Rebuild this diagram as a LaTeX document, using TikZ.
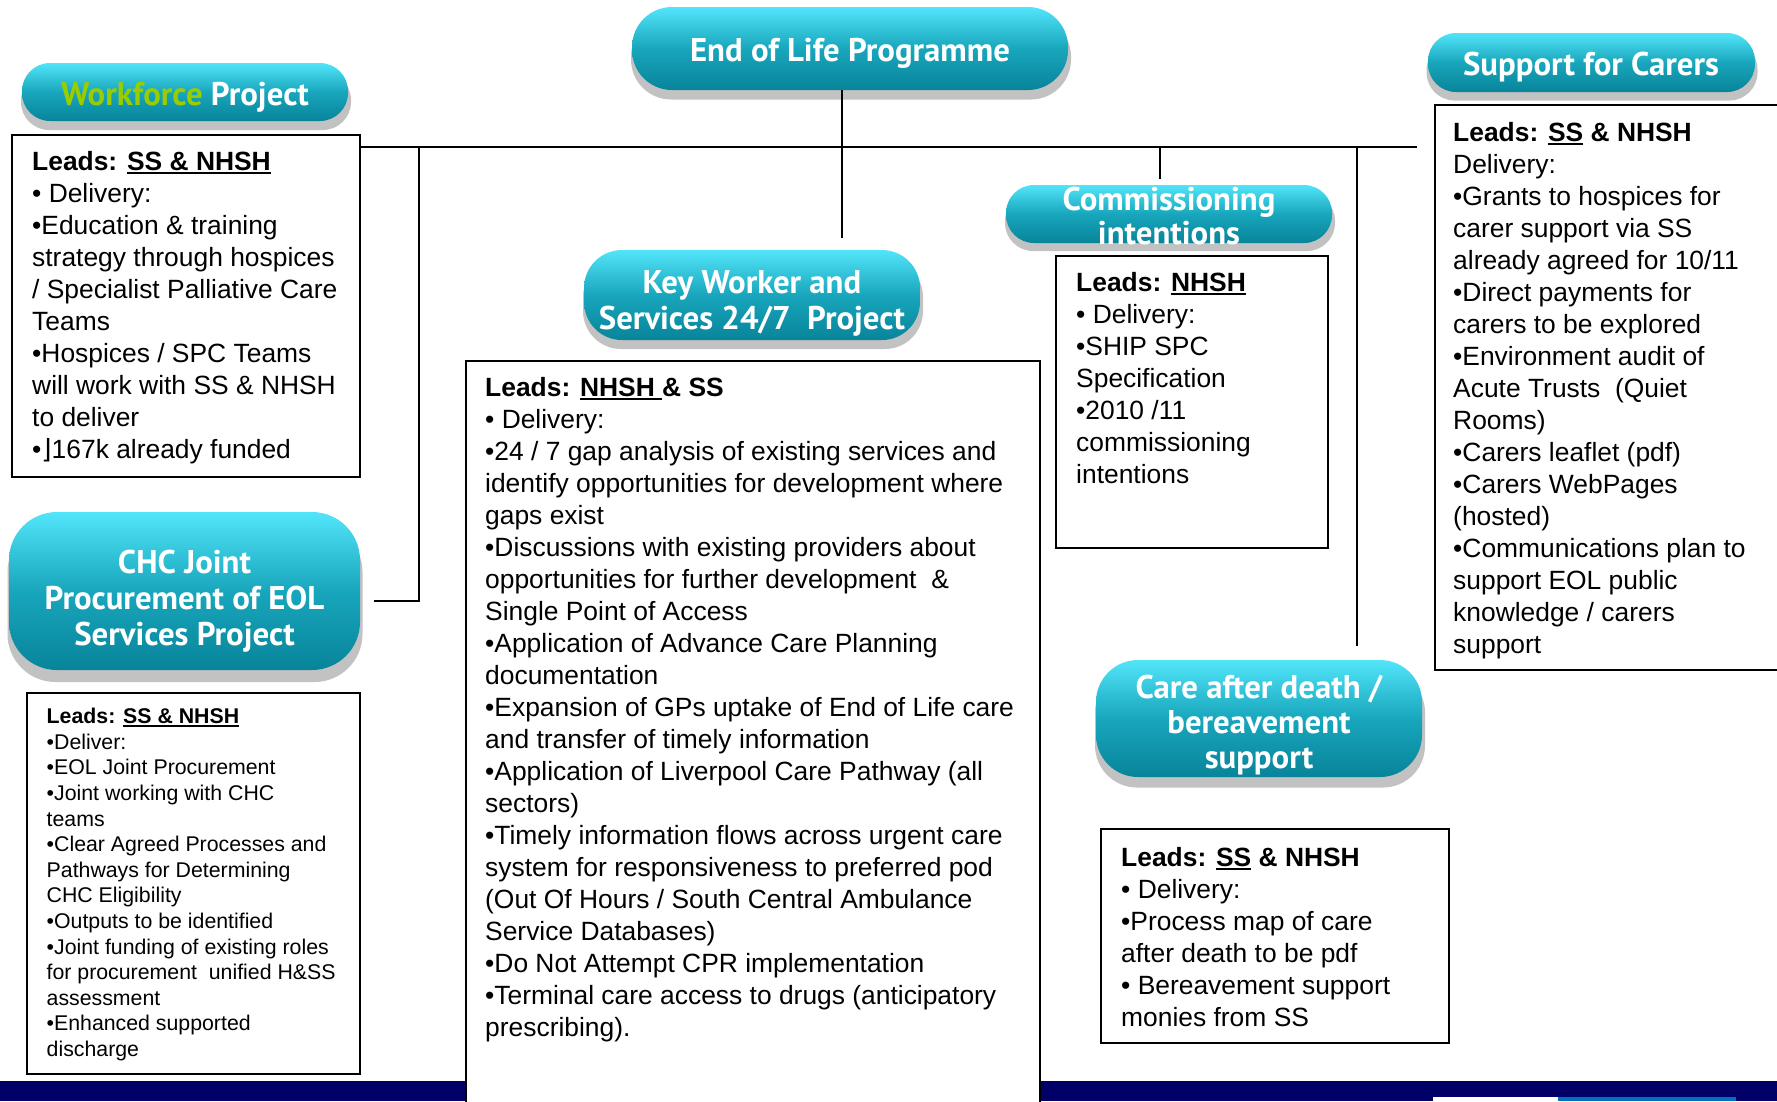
\documentclass[tikz,border=0pt]{standalone}
\usepackage{fontspec}
\setmainfont{Liberation Sans}
\newfontfamily\pillfont{PT Sans}
\newfontfamily\symfont{DejaVu Sans}
\definecolor{pilltop}{HTML}{52E5FA}
\definecolor{pillmid}{HTML}{18A6BC}
\definecolor{pillbot}{HTML}{08849A}
\definecolor{wfgreen}{HTML}{9ACD00}
\definecolor{navybar}{HTML}{000066}
\definecolor{barblue}{HTML}{0070C0}
\newsavebox\ulbox
\newcommand{\myul}[1]{\sbox\ulbox{#1}\rlap{\rule[-3.5pt]{\wd\ulbox}{2pt}}\usebox\ulbox}
\begin{document}
\begin{tikzpicture}[x=1pt,y=-1pt,
  conn/.style={line width=2pt, draw=black},
  box/.style={draw=black, line width=2pt, fill=white, rectangle, inner sep=0pt, anchor=north west},
  txt/.style={anchor=north west, inner sep=0pt, align=left, font=\fontsize{26.4}{32}\selectfont},
  smalltxt/.style={anchor=north west, inner sep=0pt, align=left, font=\fontsize{21.3}{25.6}\selectfont},
  pill/.style={rectangle, rounded corners=#1, top color=pilltop, bottom color=pillbot, middle color=pillmid, inner sep=0pt},
  pillshadow/.style={rectangle, rounded corners=#1, fill=black!24, inner sep=0pt},
  pilltxt/.style={text=white, align=center, inner sep=0pt, font=\pillfont\bfseries\fontsize{32.8}{36}\selectfont}
]
\useasboundingbox (0,0) rectangle (1777,1101);
\clip (0,0) rectangle (1777,1101);

% bottom bar
\fill[navybar] (0,1081) rectangle (1777,1101);
\fill[white] (1433,1097) rectangle (1558,1101);
\fill[barblue] (1558,1097) rectangle (1736,1101);

% boxes
\node[box, minimum width=348pt, minimum height=342pt] (wfbox) at (11,134) {};
\node[box, minimum width=574pt, minimum height=760pt] (kwbox) at (465,360) {};
\node[box, minimum width=272pt, minimum height=292pt] (combox) at (1055,255) {};
\node[box, minimum width=370pt, minimum height=565pt] (supbox) at (1434,104) {};
\node[box, minimum width=348pt, minimum height=214pt] (carebox) at (1100,828) {};
\node[box, minimum width=333pt, minimum height=381pt] (chcbox) at (26,692) {};

% pills: shadows
\node[pillshadow=40, minimum width=440pt, minimum height=83pt] (eolsh) at (851,58) {};
\node[pillshadow=28, minimum width=330pt, minimum height=58pt] (wfsh) at (186,101) {};
\node[pillshadow=28, minimum width=331pt, minimum height=59pt] (supsh) at (1592,71) {};
\node[pillshadow=28, minimum width=330pt, minimum height=58pt] (comsh) at (1170,222) {};
\node[pillshadow=38, minimum width=340pt, minimum height=90pt] (kwsh) at (753,304) {};
\node[pillshadow=42, minimum width=330pt, minimum height=117pt] (caresh) at (1260,729) {};
\node[pillshadow=48, minimum width=355pt, minimum height=158pt] (chcsh) at (185,603) {};

% pills
\node[pill=40, minimum width=436pt, minimum height=83pt] (eol) at (850,48.5) {};
\node[pill=28, minimum width=326pt, minimum height=58pt] (wf) at (185,92) {};
\node[pill=28, minimum width=327pt, minimum height=59pt] (sup) at (1591.5,62.5) {};
\node[pill=28, minimum width=326pt, minimum height=58pt] (com) at (1169,214) {};
\node[pill=38, minimum width=336pt, minimum height=90pt] (kw) at (752,295) {};
\node[pill=42, minimum width=326pt, minimum height=117pt] (care) at (1259,718.5) {};
\node[pill=48, minimum width=351pt, minimum height=158pt] (chc) at (184.5,591) {};

% pill texts
\node[pilltxt] (eoltxt) at (850,53) {End of Life Programme};
\node[pilltxt] (wftxt) at (185,97) {{\color{wfgreen}Workforce} Project};
\node[pilltxt] (suptxt) at (1591,67) {Support for Carers};
\node[pilltxt, font=\pillfont\bfseries\fontsize{32.8}{34}\selectfont] (comtxt) at (1169,216) {Commissioning\\intentions};
\node[pilltxt] (kwtxt) at (752,303) {Key Worker and\\Services 24/7~ Project};
\node[pilltxt, font=\pillfont\bfseries\fontsize{32.8}{35}\selectfont] (caretxt) at (1259,725) {Care after death /\\bereavement\\support};
\node[pilltxt] (chctxt) at (184.5,601.5) {CHC Joint\\Procurement of EOL\\Services Project};

% connectors
\coordinate (hl) at (842,147);
\coordinate (kwtop) at (842,238);
\coordinate (hlend) at (1417,147);
\coordinate (lb) at (419,147);
\coordinate (lbend) at (419,601);
\coordinate (chcend) at (374,601);
\coordinate (cj) at (1160,147);
\coordinate (cjend) at (1160,179);
\coordinate (rj) at (1357,147);
\coordinate (rjend) at (1357,646);
\draw[conn] (eol.south -| hl) -- (kwtop);
\draw[conn] (wfbox.east |- hl) -- (hlend);
\draw[conn] (lb) -- (lbend) -- (chcend);
\draw[conn] (cj) -- (cjend);
\draw[conn] (rj) -- (rjend);

% box texts
\node[txt] (wftext) at (32,151.5) {\textbf{Leads: \myul{SS \& NHSH}}\\
• Delivery:\\
•Education \& training\\
strategy through hospices\\
/ Specialist Palliative Care\\
Teams\\
•Hospices / SPC Teams\\
will work with SS \& NHSH\\
to deliver\\
•{\symfont ⌋}167k already funded};

\node[txt] (kwtext) at (485,377) {\textbf{Leads: \myul{NHSH\ }\& SS}\\
• Delivery:\\
•24 / 7 gap analysis of existing services and\\
identify opportunities for development where\\
gaps exist\\
•Discussions with existing providers about\\
opportunities for further development~ \&\\
Single Point of Access\\
•Application of Advance Care Planning\\
documentation\\
•Expansion of GPs uptake of End of Life care\\
and transfer of timely information\\
•Application of Liverpool Care Pathway (all\\
sectors)\\
•Timely information flows across urgent care\\
system for responsiveness to preferred pod\\
(Out Of Hours / South Central Ambulance\\
Service Databases)\\
•Do Not Attempt CPR implementation\\
•Terminal care access to drugs (anticipatory\\
prescribing).};

\node[txt] (comtext) at (1076,272.5) {\textbf{Leads: \myul{NHSH}}\\
• Delivery:\\
•SHIP SPC\\
Specification\\
•2010 /11\\
commissioning\\
intentions};

\node[txt] (suptext) at (1453,122) {\textbf{Leads: \myul{SS} \& NHSH}\\
Delivery:\\
•Grants to hospices for\\
carer support via SS\\
already agreed for 10/11\\
•Direct payments for\\
carers to be explored\\
•Environment audit of\\
Acute Trusts~ (Quiet\\
Rooms)\\
•Carers leaflet (pdf)\\
•Carers WebPages\\
(hosted)\\
•Communications plan to\\
support EOL public\\
knowledge / carers\\
support};

\node[txt] (caretext) at (1121,847.5) {\textbf{Leads: \myul{SS} \& NHSH}\\
• Delivery:\\
•Process map of care\\
after death to be pdf\\
• Bereavement support\\
monies from SS};

\node[smalltxt] (chctext) at (46.5,708) {\textbf{Leads: \myul{SS \& NHSH}}\\
•Deliver:\\
•EOL Joint Procurement\\
•Joint working with CHC\\
teams\\
•Clear Agreed Processes and\\
Pathways for Determining\\
CHC Eligibility\\
•Outputs to be identified\\
•Joint funding of existing roles\\
for procurement~ unified H\&SS\\
assessment\\
•Enhanced supported\\
discharge};
\end{tikzpicture}
\end{document}
